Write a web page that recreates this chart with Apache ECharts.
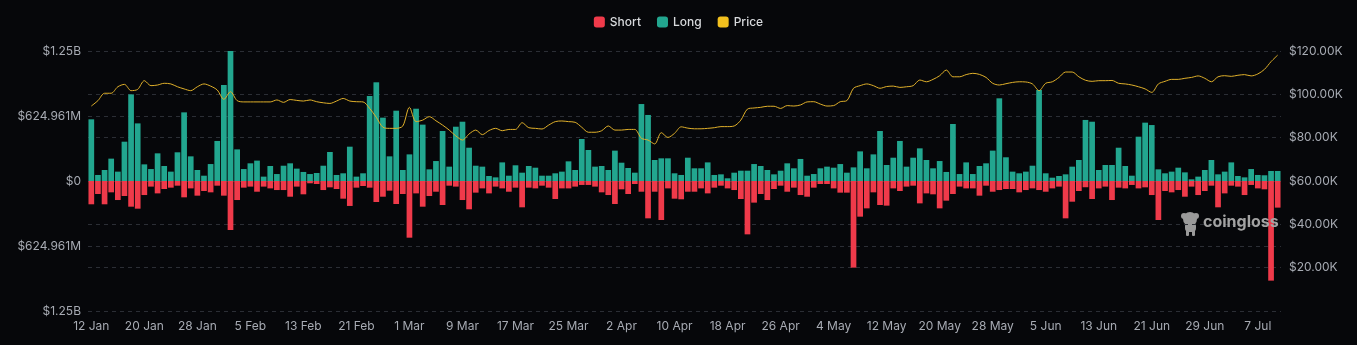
<!DOCTYPE html>
<html>
<head>
<meta charset="utf-8">
<script src="https://cdn.jsdelivr.net/npm/echarts@6/dist/echarts.min.js"></script>
<style>
  html, body { margin: 0; padding: 0; background: #06070a; }
  #chart { width: 1357px; height: 345px; }
</style>
</head>
<body>
<div id="chart"></div>
<script>
// Categories: daily from 12 Jan (180 days)
const monthNames = ['Jan','Feb','Mar','Apr','May','Jun','Jul'];
const monthDays = [31,28,31,30,31,30,31];
const categories = [];
(function(){
  let m = 0, d = 12;
  for (let k = 0; k < 180; k++) {
    categories.push(d + ' ' + monthNames[m]);
    d++;
    if (d > monthDays[m]) { d = 1; m++; }
  }
})();

// Long liquidations (millions USD)
const longM = [
  593, 58, 106, 215, 90, 378, 833, 554, 160, 115,
  266, 144, 90, 276, 660, 237, 106, 51, 163, 385,
  923, 1250, 304, 115, 170, 196, 42, 144, 67, 147,
  170, 119, 87, 67, 77, 147, 279, 58, 74, 330,
  42, 74, 817, 949, 609, 237, 676, 106, 256, 695,
  542, 112, 192, 481, 138, 522, 570, 320, 147, 138,
  48, 35, 179, 51, 151, 80, 144, 128, 51, 51,
  74, 90, 189, 106, 404, 298, 138, 144, 106, 292,
  176, 125, 80, 740, 635, 202, 218, 218, 74, 58,
  224, 122, 122, 179, 58, 64, 26, 80, 99, 99,
  163, 144, 106, 64, 99, 170, 122, 212, 51, 67,
  122, 138, 128, 163, 80, 131, 285, 122, 256, 481,
  154, 224, 385, 138, 224, 314, 202, 122, 192, 87,
  548, 67, 179, 67, 144, 170, 292, 795, 228, 90,
  74, 90, 147, 875, 74, 32, 48, 64, 138, 202,
  587, 570, 106, 154, 154, 320, 144, 51, 426, 561,
  538, 112, 74, 90, 128, 83, 16, 42, 106, 202,
  64, 90, 179, 48, 35, 115, 58, 55, 96, 96
];

// Short liquidations (millions USD)
const shortM = [
  224, 125, 224, 109, 183, 144, 247, 266, 135, 54,
  119, 77, 64, 45, 157, 71, 141, 96, 109, 45,
  141, 471, 183, 64, 54, 103, 54, 71, 87, 87,
  151, 54, 128, 22, 29, 87, 61, 77, 170, 240,
  64, 48, 64, 202, 151, 93, 221, 125, 545, 119,
  247, 144, 103, 231, 45, 54, 183, 272, 112, 71,
  119, 54, 71, 103, 64, 253, 64, 71, 45, 64,
  173, 71, 71, 54, 38, 38, 54, 109, 135, 221,
  80, 125, 29, 103, 359, 103, 375, 71, 170, 176,
  103, 103, 71, 119, 64, 45, 71, 87, 173, 513,
  208, 125, 183, 77, 45, 103, 64, 135, 151, 64,
  29, 29, 71, 112, 112, 833, 343, 263, 109, 231,
  237, 71, 96, 54, 45, 215, 119, 128, 263, 189,
  125, 54, 71, 71, 141, 45, 103, 87, 77, 77,
  109, 87, 71, 87, 103, 71, 54, 359, 199, 96,
  60, 173, 71, 54, 183, 64, 71, 38, 71, 61,
  135, 375, 96, 109, 87, 151, 54, 135, 96, 45,
  253, 119, 45, 54, 135, 38, 71, 80, 958, 256
];

// Price (thousands USD)
const priceK = [
  94.6, 97.1, 100.5, 100.5, 103.5, 104.6, 101.7, 102.3, 106.3, 104.0,
  104.3, 105.1, 104.8, 103.5, 102.5, 101.7, 103.5, 104.8, 103.8, 102.0,
  97.7, 101.2, 97.1, 96.5, 96.5, 96.5, 96.5, 96.5, 97.4, 96.3,
  97.6, 97.2, 96.9, 97.4, 96.6, 96.1, 95.8, 96.9, 98.1, 96.9,
  96.6, 96.5, 93.5, 89.4, 84.8, 84.3, 84.3, 85.4, 94.0, 87.4,
  88.1, 89.7, 87.8, 85.8, 83.5, 80.8, 78.9, 81.7, 83.5, 81.4,
  83.3, 84.3, 83.2, 83.8, 83.8, 86.9, 84.6, 84.3, 84.0, 85.8,
  87.4, 87.7, 87.4, 87.1, 84.8, 82.5, 82.5, 83.2, 85.4, 83.5,
  83.5, 83.8, 83.8, 79.7, 78.9, 77.1, 82.3, 80.1, 82.0, 85.0,
  84.4, 84.1, 84.1, 84.3, 84.6, 85.1, 85.1, 85.4, 88.1, 93.2,
  93.7, 94.0, 94.5, 94.5, 93.5, 94.8, 94.6, 95.1, 96.5, 96.6,
  95.5, 94.6, 94.8, 96.6, 97.1, 102.8, 104.0, 104.8, 104.0, 102.8,
  103.6, 103.8, 103.2, 103.5, 104.0, 106.6, 105.8, 106.9, 108.6, 111.2,
  108.1, 108.1, 109.1, 109.7, 109.2, 107.8, 105.1, 104.3, 104.9, 105.5,
  105.8, 105.7, 104.8, 101.7, 105.1, 105.8, 107.8, 110.3, 110.3, 108.1,
  106.5, 106.0, 106.3, 106.3, 106.4, 105.1, 104.8, 104.3, 103.5, 102.5,
  100.9, 104.8, 106.0, 106.9, 106.9, 107.4, 107.8, 108.5, 107.4, 105.8,
  108.1, 108.6, 108.3, 108.8, 109.1, 108.5, 109.4, 111.5, 115.1, 118.1
];

const leftInterval = 624961000;
const rightTicks = [0, 20000, 40000, 60000, 80000, 100000, 120000];

const RED = '#ef3a4a';
const GREEN = '#22a68f';
const GOLD = '#e0b02a';
const TXT = '#a7abb3';
const GRID = '#2b2e35';

function fmtLeft(v) {
  const a = Math.abs(v);
  if (a === 0) return '$0';
  if (a >= 1e9) return '$' + (a / 1e9).toFixed(2) + 'B';
  return '$' + (a / 1e6).toFixed(3) + 'M';
}
function fmtRight(v) {
  if (v === 0) return '';
  return '$' + (v / 1000).toFixed(2) + 'K';
}

const chart = echarts.init(document.getElementById('chart'), null, { renderer: 'canvas' });
const fontFamily = 'Inter, "Noto Sans", sans-serif';

chart.setOption({
  backgroundColor: '#06070a',
  animation: false,
  textStyle: { fontFamily: fontFamily },
  legend: {
    top: 11,
    left: 'center',
    itemWidth: 11,
    itemHeight: 11,
    itemGap: 16,
    icon: 'roundRect',
    textStyle: { color: '#d8dadd', fontSize: 12, fontWeight: 500, fontFamily: fontFamily },
    data: [
      { name: 'Short', itemStyle: { color: RED } },
      { name: 'Long', itemStyle: { color: GREEN } },
      { name: 'Price', itemStyle: { color: '#f2c01e' } }
    ]
  },
  grid: { left: 88, right: 76, top: 51, bottom: 34 },
  xAxis: {
    type: 'category',
    data: categories,
    boundaryGap: true,
    axisLine: { show: false },
    axisTick: { show: false },
    axisLabel: { interval: 7, color: TXT, fontSize: 12, margin: 9, fontFamily: fontFamily }
  },
  yAxis: [
    {
      type: 'value',
      min: -2 * leftInterval,
      max: 2 * leftInterval,
      interval: leftInterval,
      axisLine: { show: false },
      axisTick: { show: false },
      axisLabel: { formatter: fmtLeft, color: TXT, fontSize: 12, margin: 7, fontFamily: fontFamily },
      splitLine: { show: true, lineStyle: { color: GRID, type: [4, 4], width: 1 } }
    },
    {
      type: 'value',
      min: rightTicks[0],
      max: rightTicks[rightTicks.length - 1],
      interval: rightTicks[1] - rightTicks[0],
      axisLine: { show: false },
      axisTick: { show: false },
      axisLabel: { formatter: fmtRight, color: TXT, fontSize: 12, margin: 8, fontFamily: fontFamily },
      splitLine: { show: true, lineStyle: { color: GRID, type: [4, 4], width: 1 } }
    }
  ],
  series: [
    {
      name: 'Short',
      type: 'bar',
      stack: 'liq',
      barWidth: '86%',
      itemStyle: { color: RED },
      data: shortM.map(v => -v * 1e6)
    },
    {
      name: 'Long',
      type: 'bar',
      stack: 'liq',
      barWidth: '86%',
      itemStyle: { color: GREEN },
      data: longM.map(v => v * 1e6)
    },
    {
      name: 'Price',
      type: 'line',
      yAxisIndex: 1,
      smooth: 0.3,
      showSymbol: false,
      lineStyle: { color: GOLD, width: 1 },
      itemStyle: { color: GOLD },
      z: 5,
      data: priceK.map(v => v * 1000)
    }
  ],
  graphic: [
    {
      type: 'group',
      left: 1181,
      top: 212,
      silent: true,
      z: 100,
      children: [
        { type: 'circle', shape: { cx: 9, cy: 8, r: 7 }, style: { fill: '#9a9a9a' } },
        { type: 'circle', shape: { cx: 3, cy: 5, r: 3 }, style: { fill: '#9a9a9a' } },
        { type: 'circle', shape: { cx: 15, cy: 5, r: 3 }, style: { fill: '#9a9a9a' } },
        { type: 'rect', shape: { x: 4, y: 11, width: 11, height: 10, r: 4 }, style: { fill: '#9a9a9a' } },
        { type: 'rect', shape: { x: 5, y: 19, width: 3, height: 6, r: 1 }, style: { fill: '#9a9a9a' } },
        { type: 'rect', shape: { x: 11, y: 19, width: 3, height: 6, r: 1 }, style: { fill: '#9a9a9a' } }
      ]
    },
    {
      type: 'text',
      left: 1203,
      top: 214,
      silent: true,
      z: 100,
      style: { text: 'coingloss', fill: '#a3a3a3', font: 'bold 16px ' + fontFamily }
    }
  ]
});
</script>
</body>
</html>
